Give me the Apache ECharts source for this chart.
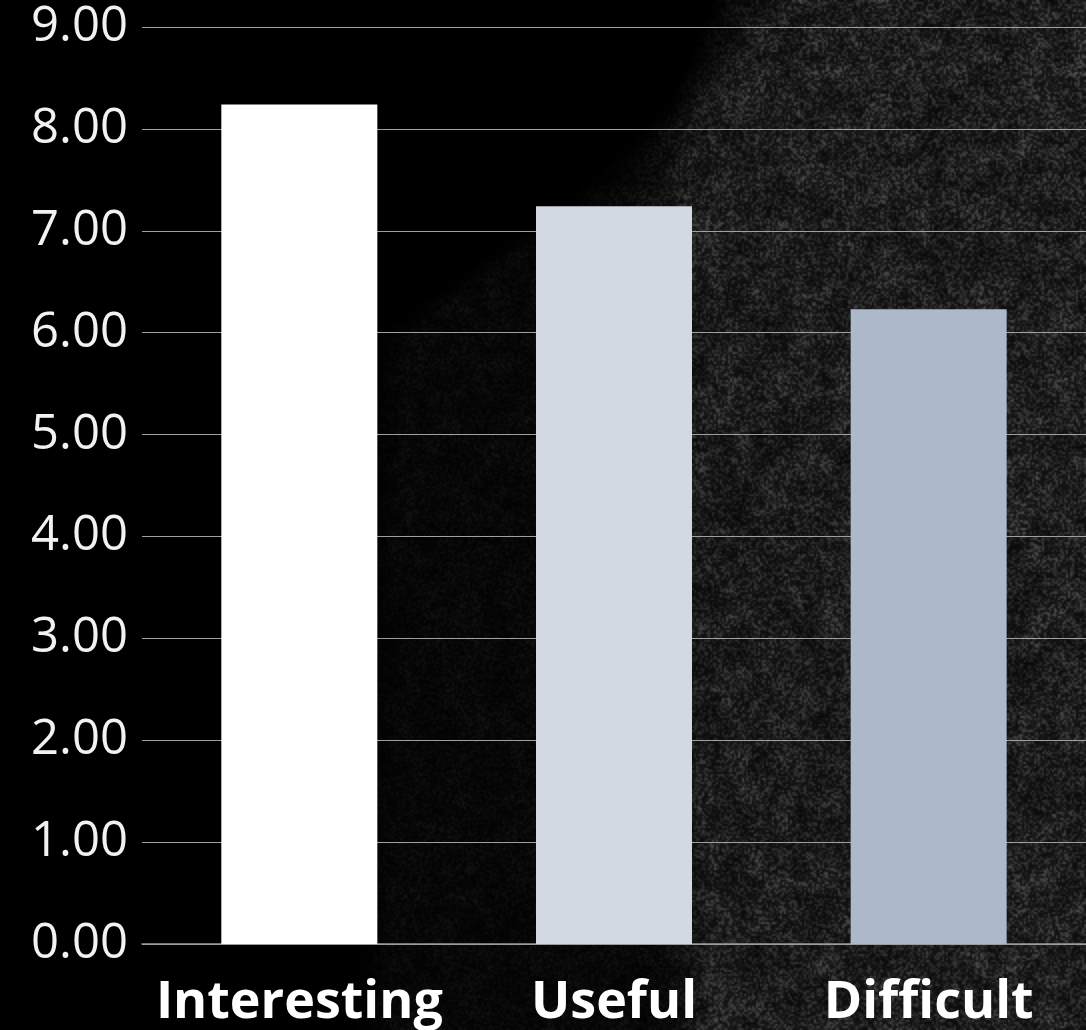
<!DOCTYPE html>
<html>
<head>
<meta charset="utf-8">
<script src="https://cdn.jsdelivr.net/npm/echarts@6/dist/echarts.min.js"></script>
<style>
  html, body { margin: 0; padding: 0; background: #000; }
  #wrap { position: relative; width: 1086px; height: 1030px; overflow: hidden; }
  #bg, #chart { position: absolute; left: 0; top: 0; width: 1086px; height: 1030px; }
</style>
</head>
<body>
<div id="wrap">
  <canvas id="bg" width="1086" height="1030"></canvas>
  <div id="chart"></div>
</div>
<script>
// Survey scores per aspect
const categories = ['Interesting', 'Useful', 'Difficult'];
const scores = [8.24, 7.24, 6.23];
const barColors = ['#ffffff', '#d3d9e3', '#adb8cb'];
const yTicks = { min: 0, max: 9, interval: 1 };

// Chalkboard backdrop: black on the left, grainy grey slate towards the right
(function drawBackdrop() {
  const W = 1086, H = 1030, S = 2;
  const gw = Math.ceil(W / S), gh = Math.ceil(H / S);
  let seed = 987654321;
  const rnd = () => { seed = (seed * 1664525 + 1013904223) >>> 0; return seed / 4294967296; };
  // cloudy chalk smudges
  const cell = 7, cw = Math.ceil(gw / cell) + 2, ch = Math.ceil(gh / cell) + 2;
  const cloud = [];
  for (let i = 0; i < cw * ch; i++) cloud.push(0.55 + 0.7 * rnd());
  const cloudAt = (x, y) => {
    const fx = x / cell, fy = y / cell, ix = Math.floor(fx), iy = Math.floor(fy);
    const tx = fx - ix, ty = fy - iy;
    const a = cloud[iy * cw + ix], b = cloud[iy * cw + ix + 1];
    const c = cloud[(iy + 1) * cw + ix], d = cloud[(iy + 1) * cw + ix + 1];
    return (a * (1 - tx) + b * tx) * (1 - ty) + (c * (1 - tx) + d * tx) * ty;
  };
  const lerpPath = (pts, y) => {
    for (let i = 0; i < pts.length - 1; i++) {
      const [y0, x0] = pts[i], [y1, x1] = pts[i + 1];
      if (y >= y0 && y <= y1) return x0 + (x1 - x0) * (y - y0) / (y1 - y0);
    }
    return pts[pts.length - 1][1];
  };
  const edge1 = [[0, 780], [177, 610], [340, 385], [1030, 370]];
  const edge2 = [[0, 735], [100, 695], [200, 650], [500, 660], [1030, 690]];
  const ramp = (d, w) => Math.max(0, Math.min(1, d / w + 0.5));
  const small = document.createElement('canvas');
  small.width = gw; small.height = gh;
  const sctx = small.getContext('2d');
  const img = sctx.createImageData(gw, gh);
  for (let y = 0; y < gh; y++) {
    for (let x = 0; x < gw; x++) {
      const X = x * S, Y = y * S;
      const l1 = ramp(X - lerpPath(edge1, Y), 40);
      const l2 = ramp(X - lerpPath(edge2, Y), 50);
      const m = (0.28 * l1 + 0.72 * l2) * (0.8 + 0.3 * X / W);
      const n = rnd();
      const v = m * cloudAt(x, y) * (14 + 55 * n * n);
      const k = (y * gw + x) * 4;
      img.data[k] = img.data[k + 1] = img.data[k + 2] = Math.min(255, v);
      img.data[k + 3] = 255;
    }
  }
  sctx.putImageData(img, 0, 0);
  const ctx = document.getElementById('bg').getContext('2d');
  ctx.imageSmoothingEnabled = true;
  ctx.drawImage(small, 0, 0, W, H);
})();

const chart = echarts.init(document.getElementById('chart'), null, { renderer: 'canvas' });
chart.setOption({
  backgroundColor: 'transparent',
  animation: false,
  grid: { left: 142, top: 27, width: 949, height: 917, containLabel: false },
  xAxis: {
    type: 'category',
    data: categories,
    axisLine: { show: true, lineStyle: { color: '#9a9a9a', width: 1.5 } },
    axisTick: { show: false },
    axisLabel: {
      interval: 0,
      color: '#ffffff',
      fontFamily: 'Open Sans',
      fontWeight: 'bold',
      fontSize: 52,
      margin: 33
    }
  },
  yAxis: {
    type: 'value',
    min: yTicks.min,
    max: yTicks.max,
    interval: yTicks.interval,
    axisLine: { show: false },
    axisTick: { show: false },
    splitLine: { lineStyle: { color: '#a0a0a0', width: 1 } },
    axisLabel: {
      color: '#f2f2f2',
      fontFamily: 'Open Sans',
      fontWeight: 'normal',
      fontSize: 49,
      margin: 14,
      formatter: v => v.toFixed(2)
    }
  },
  series: [{
    type: 'bar',
    data: scores.map((v, i) => ({ value: v, itemStyle: { color: barColors[i] } })),
    barWidth: 156
  }]
});
</script>
</body>
</html>
